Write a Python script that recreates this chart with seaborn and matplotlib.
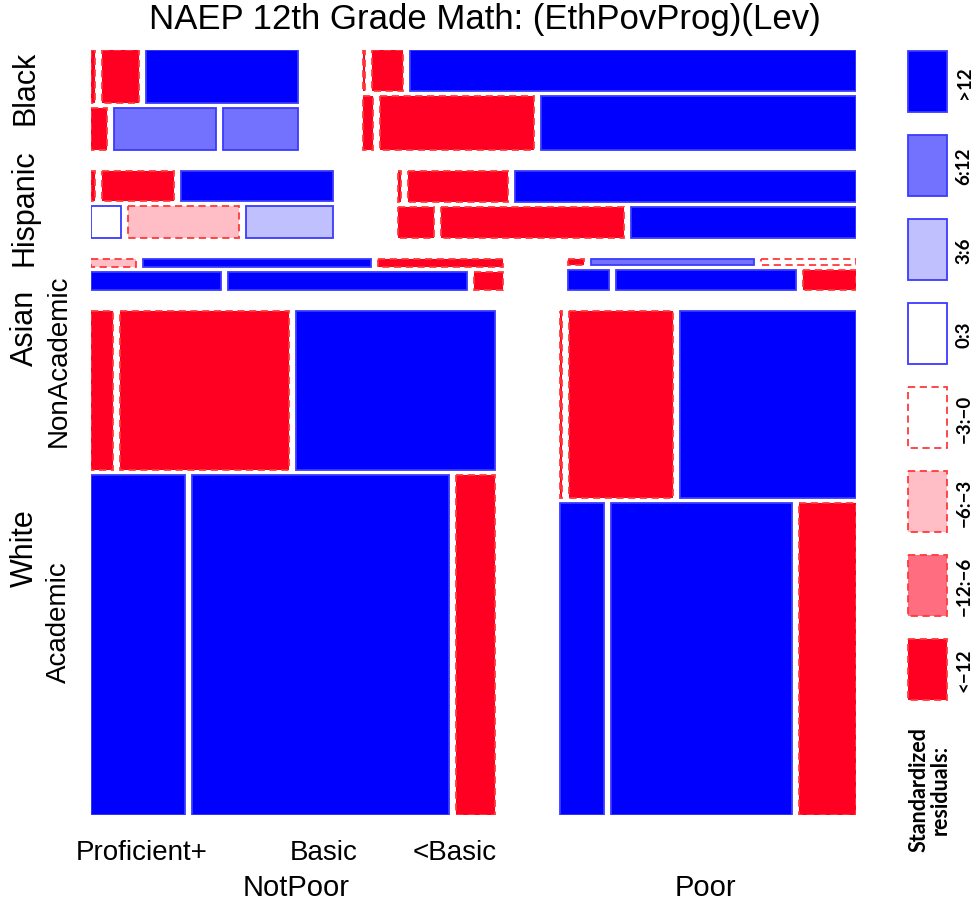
import matplotlib
matplotlib.use("Agg")
import matplotlib.pyplot as plt
from matplotlib.patches import Rectangle
import seaborn as sns

sns.set_theme(style="white")
plt.rcParams["font.family"] = ["Liberation Sans", "DejaVu Sans"]
plt.rcParams["text.color"] = "black"

# ---- data: counts[pov][prog][lev], prog order = Academic, NonAcademic ----
eth_levels = ["White", "Asian", "Hispanic", "Black"]
pov_levels = ["NotPoor", "Poor"]
prog_levels = ["Academic", "NonAcademic"]
lev_levels = ["Proficient+", "Basic", "<Basic"]

white_counts = [[[682, 1858, 283], [75, 572, 673]],
                [[296, 1218, 384], [8, 421, 709]]]
asian_counts = [[[59, 108, 13], [9, 46, 25]],
                [[21, 92, 27], [2.5, 25, 14.5]]]
hispanic_counts = [[[22, 83, 65], [3, 50, 107]],
                   [[25, 129, 158], [2, 70, 240]]]
black_counts = [[[15, 99, 72], [5, 45, 185]],
                [[12, 184, 375], [2, 28, 403]]]

# standardized residuals, same nesting
white_resid = [[[25, 20, -30], [-20, -15, 35]],
               [[15, 18, -25], [-13, -20, 30]]]
asian_resid = [[[20, 14, -15], [-4, 13, -14]],
               [[13, 14, -13], [-13, 8, -1]]]
hispanic_resid = [[[1.5, -4, 4.5], [-13, -14, 18]],
                  [[-14, -16, 20], [-13, -18, 25]]]
black_resid = [[[-13, 8, 9], [-13, -16, 22]],
               [[-15, -20, 28], [-13, -17, 30]]]

counts = {"White": white_counts, "Asian": asian_counts,
          "Hispanic": hispanic_counts, "Black": black_counts}
resid = {"White": white_resid, "Asian": asian_resid,
         "Hispanic": hispanic_resid, "Black": black_resid}

BLUE_EDGE = "#3a3aff"
RED_EDGE = "#ff3a3a"
shades = [  # (label, facecolor, positive?)
    (">12", "#0000ff", True),
    ("6:12", "#7272ff", True),
    ("3:6", "#c0c0ff", True),
    ("0:3", "#ffffff", True),
    ("\u22123:\u22120", "#ffffff", False),
    ("\u22126:\u22123", "#ffbec6", False),
    ("\u221212:\u22126", "#ff6e80", False),
    ("<\u221212", "#ff0022", False),
]


def shade_of(r):
    if r > 12:
        return shades[0]
    if r > 6:
        return shades[1]
    if r > 3:
        return shades[2]
    if r >= 0:
        return shades[3]
    if r > -3:
        return shades[4]
    if r > -6:
        return shades[5]
    if r > -12:
        return shades[6]
    return shades[7]


def split(start, length, weights, gap):
    avail = length - gap * (len(weights) - 1)
    tot = float(sum(weights))
    out, pos = [], start
    for w in weights:
        size = avail * w / tot
        out.append((pos, size))
        pos += size + gap
    return out


def total(x):
    if isinstance(x, (list, tuple)):
        return sum(total(v) for v in x)
    return x


def tile(axis, x, y, w, h, fc, positive):
    axis.add_patch(Rectangle((x, y), w, h, facecolor=fc,
                             edgecolor=BLUE_EDGE if positive else RED_EDGE,
                             linewidth=1.3,
                             linestyle="-" if positive else (0, (4, 2.5))))


W, H = 972, 903
fig = plt.figure(figsize=(W / 100, H / 100), dpi=100)
ax = fig.add_axes([91 / W, (H - 816) / H, 765 / W, 765 / H])
ax.set_xlim(0, 1)
ax.set_ylim(1, 0)
ax.axis("off")

span = 765.0
g_eth, g_pov, g_prog, g_lev = 21 / span, 65 / span, 5 / span, 7 / span

eth_top_down = ["Black", "Hispanic", "Asian", "White"]
eth_rows = split(0, 1, [total(counts[e]) for e in eth_top_down], g_eth)
for e, (y0, hy) in zip(eth_top_down, eth_rows):
    c = counts[e]
    pov_cols = split(0, 1, [total(c[p]) for p in range(2)], g_pov)
    for p, (x0, wx) in enumerate(pov_cols):
        prog_order = [1, 0]          # NonAcademic above Academic
        prog_rows = split(y0, hy, [total(c[p][g]) for g in prog_order], g_prog)
        for g, (py0, ph) in zip(prog_order, prog_rows):
            lev_cols = split(x0, wx, c[p][g], g_lev)
            for k, (lx0, lw) in enumerate(lev_cols):
                _, fc, pos = shade_of(resid[e][p][g][k])
                tile(ax, lx0, py0, lw, ph, fc, pos)

# ---- text ----
def ftext(x, y, s, **kw):
    fig.text(x / W, 1 - y / H, s, ha="center", va="center", **kw)


ftext(485, 20, "NAEP 12th Grade Math: (EthPovProg)(Lev)", fontsize=25)

for txt, x in zip(lev_levels, [142, 324, 455]):
    ftext(x, 853, txt, fontsize=20)
for txt, x in zip(pov_levels, [296, 705]):
    ftext(x, 888, txt, fontsize=21)
for txt, y in zip(["Black", "Hispanic", "Asian", "White"], [88, 208, 328, 548]):
    ftext(25, y, txt, rotation=90, fontsize=22)
for txt, y in zip(["NonAcademic", "Academic"], [361, 622]):
    ftext(59, y, txt, rotation=90, fontsize=20)

# ---- legend ----
lg = fig.add_axes([0, 0, 1, 1])
lg.set_xlim(0, W)
lg.set_ylim(H, 0)
lg.axis("off")
lg.patch.set_alpha(0)
box_top, box_h, box_step = 52, 61, 84
for i, (lab, fc, pos) in enumerate(shades):
    yb = box_top + i * box_step
    tile(lg, 908, yb, 39, box_h, fc, pos)
    lg.text(964, yb + box_h / 2, lab, rotation=90, ha="center", va="center",
            fontsize=13.5, fontweight="bold", family=["Lato", "DejaVu Sans"])
lg.text(930, 790, "Standardized\nresiduals:", rotation=90, ha="center",
        va="center", fontsize=15.5, fontweight="bold",
        family=["Lato", "DejaVu Sans"], linespacing=1.0)

fig.savefig("out.png", dpi=100, facecolor="white")
